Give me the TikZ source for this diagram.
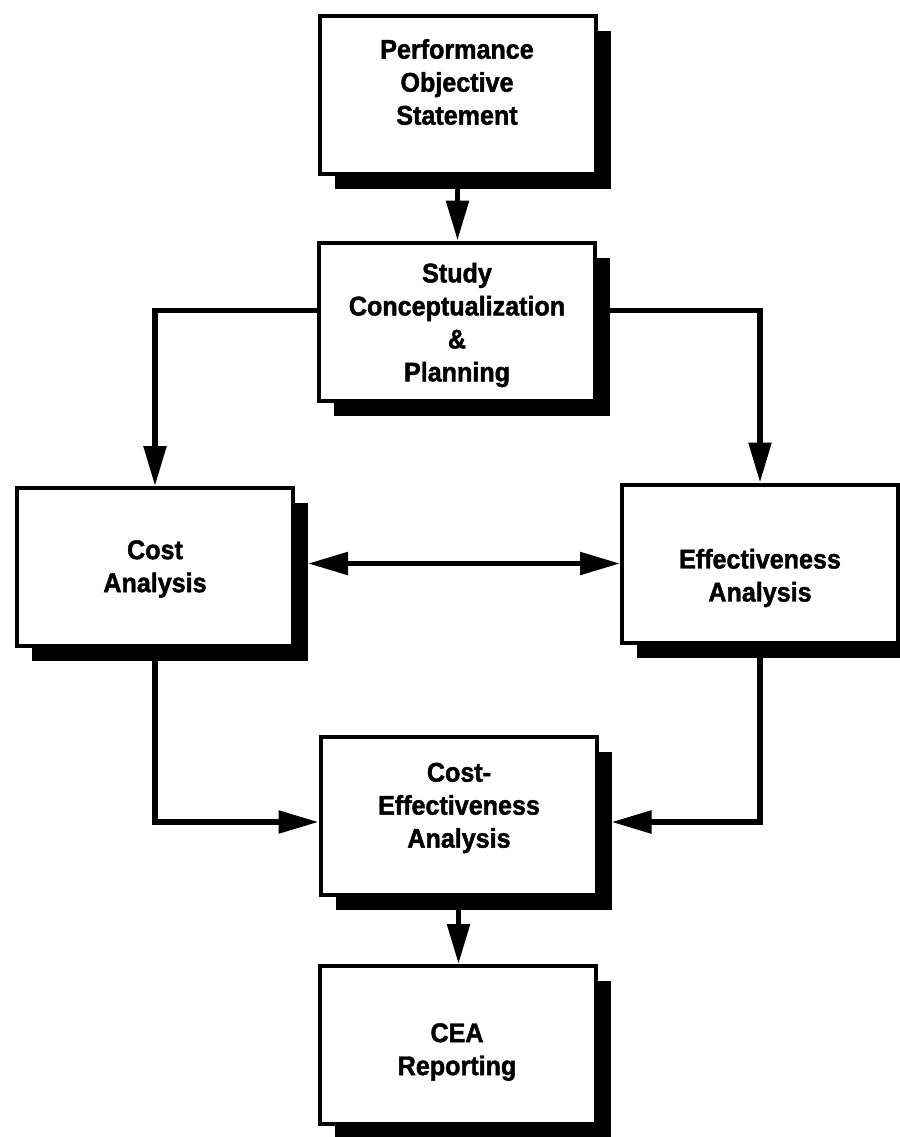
\documentclass[tikz,border=0pt]{standalone}
\usepackage{fontspec}
\newfontfamily\heavy{Liberation Sans Bold}[FakeStretch=0.93, FakeBold=1.6]
\usetikzlibrary{arrows.meta,shadows,calc}
\begin{document}
\begin{tikzpicture}[x=1pt,y=-1pt,
  box/.style={draw=black, line width=4pt, fill=white, minimum width=276pt, minimum height=158pt, inner sep=0pt,
    drop shadow={shadow xshift=15pt, shadow yshift=-15pt, fill=black, opacity=1}},
  txt/.style={align=center, font=\heavy\fontsize{27}{33}\selectfont, inner sep=0pt},
  conn/.style={line width=5.5pt, -{Triangle[length=40pt,width=22pt]}},
  dconn/.style={line width=5.5pt, {Triangle[length=40pt,width=22pt]}-{Triangle[length=40pt,width=22pt]}}]
\useasboundingbox[fill=white] (0,0) rectangle (899,1137);
% boxes
\node[box] (b1) at (457.5,95) {};
\node[box] (b2) at (457,321.5) {};
\node[box] (b3) at (155,567) {};
\node[box] (b4) at (760,563.5) {};
\node[box] (b5) at (458.5,816) {};
\node[box] (b6) at (457.5,1045) {};
% connectors
\coordinate (b3s) at ([xshift=13pt]b3.east);
\coordinate (b5s) at ([xshift=13pt,yshift=-6pt]b5.east);
\draw[conn] (b1.south) -- (b1.south |- b2.north);
\draw[conn] ([yshift=11pt]b2.west) -| (b3.north);
\draw[conn] ([yshift=11pt]b2.east) -| (b4.north);
\draw[dconn] (b3s |- b4.west) -- (b4.west);
\draw[conn] (b3.south) |- ([yshift=-6pt]b5.west);
\draw[conn] (b4.south) |- (b5s);
\draw[conn] (b5.south) -- (b5.south |- b6.north);
% texts
\node[txt] (t1) at (457,82) {Performance\\Objective\\Statement};
\node[txt] (t2) at (457,325) {Study\\Conceptualization\\\&\\Planning};
\node[txt] (t3) at (155,569) {Cost\\Analysis};
\node[txt] (t4) at (760,578) {Effectiveness\\Analysis};
\node[txt] (t5) at (459,808) {Cost-\\Effectiveness\\Analysis};
\node[txt] (t6) at (457,1052) {CEA\\Reporting};
\end{tikzpicture}
\end{document}
